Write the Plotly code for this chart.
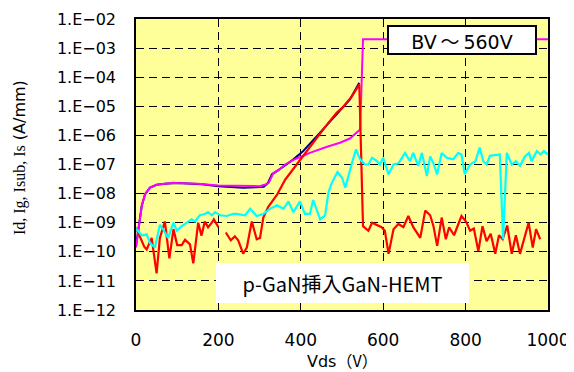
import plotly.graph_objects as go

# Vds (V) and current (A/mm) for each trace
is_v = [0, 5, 10, 14, 22, 34, 50, 70, 100, 130, 160, 200, 230, 260, 290, 310, 320, 330, 342,
        350, 365, 382, 406, 439, 471, 495, 519, 542]
is_a = [1.6e-10, 4.6e-10, 1.3e-9, 3.8e-9, 9.5e-9, 1.6e-8, 2.0e-8, 2.2e-8, 2.3e-8, 2.2e-8, 2.1e-8,
        1.8e-8, 1.7e-8, 1.6e-8, 1.65e-8, 1.7e-8, 2.3e-8, 4.6e-8, 5.9e-8,
        7.0e-8, 1.0e-7, 1.5e-7, 2.9e-7, 9.4e-7, 3.0e-6, 6.8e-6, 1.7e-5, 6.4e-5]

id_v = [0, 5, 10, 14, 22, 34, 50, 70, 90, 100, 150, 200, 250, 300, 312, 322, 333, 349, 362,
        382, 406, 422, 462, 495, 519, 544, 551, 1000]
id_a = [1.4e-10, 4.6e-10, 1.3e-9, 3.8e-9, 9.5e-9, 1.6e-8, 2.0e-8, 2.2e-8, 2.35e-8, 2.3e-8, 2.2e-8,
        1.9e-8, 1.8e-8, 1.8e-8, 2.0e-8, 2.3e-8, 5.0e-8, 6.9e-8, 1.0e-7,
        1.45e-7, 2.0e-7, 2.5e-7, 4.0e-7, 5.6e-7, 7.8e-7, 1.6e-6, 2.0e-3, 2.0e-3]

ig_v = [0, 10, 20, 26, 38, 50, 58, 70, 81, 91, 100, 111, 119, 131, 139, 151, 159, 167, 175, 184,
        189, 200, 209, 218, 230, 240, 248, 260, 269, 281, 293, 301, 309, 321, 342, 362, 398, 430,
        463, 487, 503, 524, 542, 551, 564, 573, 585, 596, 604, 613, 625, 637, 649, 661, 673, 690,
        702, 714, 722, 731, 742, 752, 760, 772, 790, 801, 811, 820, 831, 841, 851, 861, 872, 881,
        890, 901, 912, 922, 932, 941, 953, 963, 971, 981]
ig_a = [6.7e-10, 3e-10, 1.5e-10, 1.2e-10, 3e-10, 1.8e-11, 3e-10, 1.1e-9, 6e-11, 6e-10, 1.7e-10,
        1.7e-10, 2.6e-10, 1.8e-10, 4e-11, 1e-9, 3.6e-10, 1.1e-9, 7e-10, 1e-9,
        1.3e-9, 7e-10, None, 4.6e-10, 2.5e-10, 3.4e-10, 2.5e-10, 8.6e-11, 1.4e-10, 1.1e-9, 2.7e-10,
        3e-10, 1.5e-9, 3.5e-9, 9e-9, 3e-8, 1.4e-7, 6e-7,
        2.3e-6, 6e-6, 9.6e-6, 2.2e-5, 5.6e-5, 7.6e-10, 5.3e-10, 1e-9, 8.5e-10, 7e-10, 5.3e-10,
        8.5e-11, 6e-10, 9e-10, 7e-10, 1.7e-9, 7e-10, 3e-10,
        2.6e-9, 1.8e-9, 7.6e-10, 1.6e-10, 1.5e-9, 2.7e-10, 7e-10, 3.7e-10, 1.7e-9, 1.1e-9, 5.3e-10,
        6.3e-10, 1.05e-10, 7.6e-10, 2.3e-10, 4.2e-10, 8.5e-11, 3.7e-10,
        2.7e-10, 8e-10, 8.5e-11, 3.7e-10, 8.5e-11, 2.7e-10, 1e-9, 1.4e-10, 6e-10, 2.7e-10]

isub_v = [0, 14, 26, 34, 46, 58, 66, 78, 91, 99, 111, 123, 135, 143, 155, 167, 175, 184, 192,
          204, 220, 236, 244, 265, 277, 293, 309, 325, 342, 358, 370, 382, 398, 410, 422, 430,
          447, 459, 467, 475, 489, 500, 508, 524, 534, 544, 556, 564, 573, 585, 592, 600, 613,
          625, 637, 653, 665, 673, 685, 694, 706, 714, 722, 731, 742, 754, 770, 782, 790, 798,
          811, 824, 834, 843, 851, 859, 883, 891, 900, 912, 922, 932, 944, 954, 960, 973, 982,
          990, 1000]
isub_a = [6.3e-10, 3.6e-10, 4e-10, 2e-10, 1.4e-10, 8.5e-10, 5.8e-10, 3e-10, 1e-9, 5.3e-10,
          7.6e-10, 1e-9, 1.3e-9, 1.1e-9, 1.8e-9, 2e-9, 2.3e-9, 1.8e-9, 2.3e-9,
          1.8e-9, 1.7e-9, 2e-9, 2e-9, 1.8e-9, 3e-9, 1.7e-9, 2e-9, 3e-9, 4e-9, 3e-9, 5.4e-9,
          2.3e-9, 5.4e-9, 2e-9, 2e-9, 6e-9,
          1.3e-9, 1.8e-9, 1.1e-8, 2.3e-8, 5.5e-8, 3.5e-8, 1.6e-8, 1.1e-7, 3.3e-7, 1.5e-7, 1e-7,
          1e-7, 1.7e-7, 1.3e-7, 1e-7, 1.7e-7, 4.6e-8,
          1e-7, 1.1e-7, 2.5e-7, 1.3e-7, 2.5e-7, 9e-8, 2.5e-7, 4e-8, 1.9e-7, 1.1e-7, 4.6e-8,
          2.5e-7, 1.7e-7, 1.5e-7, 2.5e-7, 2.2e-7, 4.6e-8,
          1e-7, 1.3e-7, 3.8e-7, 1.3e-7, 1e-7, 2e-7, 2.2e-7, 2.7e-10, 2.5e-7, 1e-7, 1.3e-7, 9e-8,
          1.9e-7, 2.5e-7, 1.3e-7, 2.9e-7, 2.2e-7,
          2.9e-7, 2.2e-7]

y_tickvals = [1e-12, 1e-11, 1e-10, 1e-9, 1e-8, 1e-7, 1e-6, 1e-5, 1e-4, 1e-3, 1e-2]
y_ticktext = ["1.E−12", "1.E−11", "1.E−10", "1.E−09", "1.E−08", "1.E−07",
              "1.E−06", "1.E−05", "1.E−04", "1.E−03", "1.E−02"]
x_tickvals = [0, 200, 400, 600, 800, 1000]

SANS = "DejaVu Sans, Noto Sans CJK JP, sans-serif"
JP = "Noto Sans CJK JP, DejaVu Sans, sans-serif"

fig = go.Figure()
fig.add_trace(go.Scatter(x=is_v, y=is_a, mode="lines", line=dict(color="#000080", width=2)))
fig.add_trace(go.Scatter(x=id_v, y=id_a, mode="lines", line=dict(color="#FF00FF", width=2)))
fig.add_trace(go.Scatter(x=ig_v, y=ig_a, mode="lines", connectgaps=False,
                         line=dict(color="#FF0000", width=2.2)))
fig.add_trace(go.Scatter(x=isub_v, y=isub_a, mode="lines", line=dict(color="#00FFFF", width=2.2)))

# the page body keeps its default 8px margin, so the figure is 8px smaller
fig.update_layout(
    width=566, height=364,
    margin=dict(l=128, r=26, t=11, b=62),
    paper_bgcolor="white",
    plot_bgcolor="#FFFF99",
    showlegend=False,
    font=dict(family=SANS, color="black"),
    xaxis=dict(
        range=[0, 1000], tickvals=x_tickvals, automargin=False,
        showline=True, linecolor="black", linewidth=1.5, mirror=True,
        showgrid=True, gridcolor="black", gridwidth=1, griddash="8px,5px",
        ticks="inside", ticklen=7, tickcolor="black",
        tickfont=dict(family=SANS, size=17), ticklabelstandoff=14,
        zeroline=False,
    ),
    yaxis=dict(
        type="log", range=[-12, -2], tickvals=y_tickvals, ticktext=y_ticktext,
        automargin=False,
        showline=True, linecolor="black", linewidth=1.5, mirror=True,
        showgrid=True, gridcolor="black", gridwidth=1, griddash="8px,5px",
        ticks="", tickfont=dict(family=SANS, size=16), ticklabelstandoff=15,
        zeroline=False,
    ),
    annotations=[
        dict(xref="paper", yref="paper", x=0.791, y=0.929, xanchor="center", yanchor="middle",
             showarrow=False,
             text="BV\u2009<span style='font-family:Noto Sans CJK JP'>～</span>\u2009560V",
             font=dict(family=SANS, size=19, color="black"),
             bgcolor="white", bordercolor="black", borderwidth=2, borderpad=0,
             width=146, height=26),
        dict(xref="paper", yref="paper", x=0.501, y=0.093, xanchor="center", yanchor="middle",
             showarrow=False,
             text="p-GaN挿入GaN-HEMT",
             font=dict(family=JP, size=20, color="black"),
             bgcolor="white", borderwidth=0, borderpad=0, width=253, height=40),
        dict(xref="paper", yref="paper", x=0.5, y=-0.172, xanchor="center", yanchor="middle",
             showarrow=False,
             text="Vds<span style='font-family:Noto Sans CJK JP'>（V）</span>",
             font=dict(family=SANS, size=16, color="black")),
        dict(xref="paper", yref="paper", x=-0.281, y=0.523, xanchor="center", yanchor="middle",
             textangle=-90, showarrow=False,
             text="<span style='font-family:Liberation Serif'>Id, Ig, Isub, Is</span> (A/mm)",
             font=dict(family=SANS, size=16, color="black")),
    ],
)

fig.write_html("out.html")
